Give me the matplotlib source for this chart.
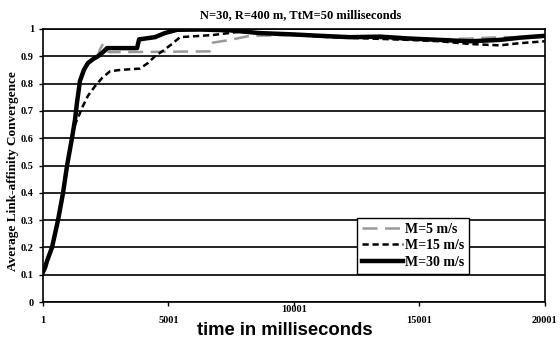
import matplotlib
matplotlib.use('Agg')
import matplotlib.pyplot as plt

plt.rcParams['font.family'] = ['Liberation Serif', 'DejaVu Serif']
plt.rcParams['font.weight'] = 'bold'

# time in milliseconds and average link-affinity convergence
t_m5 = [1, 160, 360, 600, 800, 960, 1155, 1275, 1355, 1475, 1630, 1790, 2000, 2190, 2270,
        2390, 2510, 2670, 6650, 6770, 7450, 8250, 10000, 11430, 13030, 14620, 15820, 17010,
        18210, 20001]
v_m5 = [0.11, 0.15, 0.2, 0.3, 0.4, 0.5, 0.6, 0.667, 0.73, 0.80, 0.85, 0.875, 0.89, 0.90, 0.925,
        0.945, 0.92, 0.915, 0.918, 0.95, 0.96, 0.975, 0.978, 0.972, 0.968, 0.96, 0.962, 0.965,
        0.97, 0.97]

t_m15 = [1, 160, 360, 600, 800, 960, 1155, 1275, 1400, 1550, 1790, 2070, 2350, 2670, 3070,
         3860, 4180, 4460, 4780, 5140, 5460, 6780, 7850, 8650, 10000, 11430, 13030, 14620,
         15820, 17010, 18210, 19000, 20001]
v_m15 = [0.11, 0.15, 0.2, 0.3, 0.4, 0.5, 0.6, 0.65, 0.675, 0.71, 0.755, 0.79, 0.82, 0.845,
         0.85, 0.855, 0.875, 0.90, 0.92, 0.945, 0.97, 0.978, 0.99, 0.985, 0.978, 0.97, 0.965,
         0.96, 0.955, 0.945, 0.94, 0.948, 0.955]

t_m30 = [1, 80, 160, 360, 600, 800, 960, 1155, 1275, 1355, 1475, 1630, 1790, 2000, 2190,
         2390, 2550, 3750, 3830, 4460, 4860, 5340, 6260, 7450, 8650, 10000, 11040, 12230,
         13430, 14620, 15820, 17010, 18210, 19000, 20001]
v_m30 = [0.11, 0.125, 0.15, 0.2, 0.3, 0.4, 0.5, 0.6, 0.667, 0.73, 0.81, 0.85, 0.875, 0.89,
         0.90, 0.915, 0.93, 0.93, 0.962, 0.97, 0.985, 0.997, 0.998, 0.995, 0.985, 0.98, 0.975,
         0.97, 0.972, 0.965, 0.96, 0.955, 0.96, 0.968, 0.975]

x_ticks = [1, 5001, 10001, 15001, 20001]
y_ticks = [0, 0.1, 0.2, 0.3, 0.4, 0.5, 0.6, 0.7, 0.8, 0.9, 1]
y_labels = ['0', '0.1', '0.2', '0.3', '0.4', '0.5', '0.6', '0.7', '0.8', '0.9', '1']

fig = plt.figure(figsize=(5.6, 3.39), dpi=100)
ax = fig.add_axes([0.0768, 0.109, 0.896, 0.8055])

for y in y_ticks:
    ax.axhline(y, color='black', lw=1.2, zorder=1)

ax.plot(t_m5, v_m5, color='#999999', lw=1.8, dashes=(6, 3), label='M=5 m/s', zorder=3)
ax.plot(t_m15, v_m15, color='black', lw=1.8, dashes=(2.5, 1.5), label='M=15 m/s', zorder=3)
ax.plot(t_m30, v_m30, color='black', lw=3.2, label='M=30 m/s', zorder=4)

ax.set_xlim(1, 20001)
ax.set_ylim(0, 1)
ax.set_xticks(x_ticks)
ax.set_xticklabels([str(x) for x in x_ticks])
ax.set_yticks(y_ticks)
ax.set_yticklabels(y_labels)
ax.tick_params(axis='both', labelsize=7.5, length=3, width=1, color='black')
ax.tick_params(axis='x', pad=7)
# the 10001 label sits higher in the original
ax.get_xticklabels()[2].set_y(0.04)
for s in ax.spines.values():
    s.set_linewidth(1.2)
    s.set_color('black')

fig.text(0.5375, 0.955, 'N=30, R=400 m, TtM=50 milliseconds', fontsize=9,
         fontweight='bold', ha='center', va='center')
fig.text(0.508, 0.012, 'time in milliseconds', fontsize=13.3, fontweight='bold',
         ha='center', va='baseline', family=['Liberation Sans', 'DejaVu Sans'])
fig.text(0.023, 0.495, 'Average Link-affinity Convergence', fontsize=9.5, fontweight='bold',
         rotation=90, ha='center', va='center')

leg = ax.legend(loc='upper left', bbox_to_anchor=(0.6255, 0.3077), fontsize=10, frameon=True,
                fancybox=False, edgecolor='black', handlelength=3.0, handletextpad=0.1,
                borderpad=0.35, labelspacing=0.25, borderaxespad=0)
leg.get_frame().set_linewidth(1.0)
leg.get_frame().set_alpha(1)

fig.savefig('out.png', dpi=100)
